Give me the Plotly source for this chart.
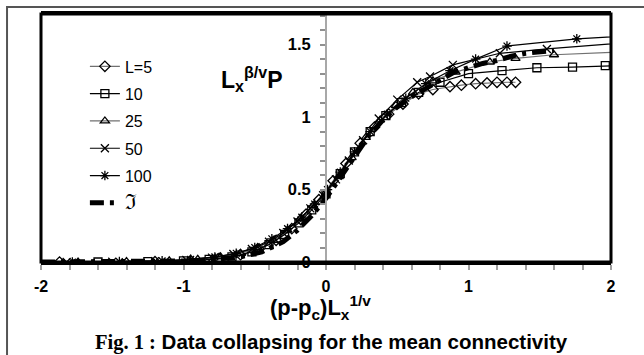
import plotly.graph_objects as go

# ---- data ----
x_L5 = [-1.87, -1.2, -0.95, -0.75, -0.6, -0.47, -0.35, -0.24, -0.14, -0.05, 0.05, 0.14, 0.24, 0.34,
        0.44, 0.54, 0.65, 0.75, 0.87, 0.95, 1.05, 1.13, 1.20, 1.27, 1.33]
y_L5 = [0.0, 0.002, 0.01, 0.025, 0.05, 0.09, 0.15, 0.23, 0.33, 0.43, 0.56, 0.68, 0.82, 0.93,
        1.02, 1.09, 1.16, 1.19, 1.21, 1.22, 1.23, 1.235, 1.24, 1.24, 1.24]

x_L10 = [-1.6, -1.25, -1.0, -0.82, -0.66, -0.52, -0.4, -0.29, -0.19, -0.1, 0.0, 0.1, 0.2, 0.31,
         0.42, 0.53, 0.65, 0.8, 1.0, 1.235, 1.48, 1.73, 1.96, 2.2]
y_L10 = [0.0, 0.003, 0.008, 0.018, 0.035, 0.07, 0.12, 0.19, 0.27, 0.36, 0.47, 0.61, 0.76, 0.9,
         1.01, 1.1, 1.17, 1.24, 1.30, 1.32, 1.34, 1.345, 1.355, 1.36]

x_L25 = [-1.74, -1.4, -1.1, -0.9, -0.74, -0.6, -0.48, -0.37, -0.27, -0.18, -0.09, 0.0, 0.09, 0.18,
         0.28, 0.38, 0.49, 0.61, 0.75, 0.91, 1.15, 1.33, 1.6, 2.1]
y_L25 = [0.0, 0.003, 0.008, 0.018, 0.035, 0.06, 0.1, 0.15, 0.22, 0.3, 0.39, 0.48, 0.59, 0.72,
         0.86, 0.98, 1.08, 1.17, 1.25, 1.31, 1.38, 1.405, 1.43, 1.45]

x_L50 = [-1.82, -1.5, -1.2, -0.98, -0.8, -0.65, -0.52, -0.4, -0.3, -0.2, -0.11, -0.02, 0.07, 0.16,
         0.26, 0.37, 0.5, 0.64, 0.73, 0.89, 1.22, 1.55, 2.2]
y_L50 = [0.0, 0.002, 0.006, 0.014, 0.03, 0.055, 0.09, 0.14, 0.2, 0.28, 0.37, 0.46, 0.57, 0.7,
         0.84, 0.99, 1.12, 1.24, 1.28, 1.36, 1.44, 1.47, 1.52]

x_L100 = [-1.78, -1.45, -1.15, -0.95, -0.78, -0.63, -0.5, -0.38, -0.27, -0.17, -0.08, 0.01, 0.1,
          0.2, 0.31, 0.43, 0.56, 0.7, 0.87, 1.05, 1.27, 1.76, 2.3]
y_L100 = [0.0, 0.003, 0.008, 0.018, 0.035, 0.06, 0.1, 0.16, 0.23, 0.31, 0.4, 0.5, 0.62,
          0.76, 0.9, 1.02, 1.13, 1.23, 1.32, 1.4, 1.49, 1.54, 1.57]

x_fit = [-2.0, -1.5, -1.0, -0.8, -0.6, -0.45, -0.3, -0.2, -0.1, 0.0, 0.1, 0.2, 0.3, 0.4, 0.5,
         0.6, 0.7, 0.8, 0.9, 1.0, 1.1, 1.2, 1.3, 1.4, 1.5, 1.6]
y_fit = [0.0, 0.001, 0.007, 0.016, 0.035, 0.07, 0.14, 0.22, 0.32, 0.44, 0.58, 0.73, 0.87, 0.98,
         1.07, 1.14, 1.2, 1.26, 1.31, 1.34, 1.37, 1.39, 1.42, 1.44, 1.45, 1.46]

x_tickvals = [-2, -1, 0, 1, 2]
x_ticktext = ["-2", "-1", "0", "1", "2"]
y_tickvals = [0, 0.5, 1, 1.5]
y_ticktext = ["0", "0.5", "1", "1.5"]

series = [
    ("L=5", x_L5, y_L5, "diamond-open", "#707070"),
    ("10", x_L10, y_L10, "square-open", "black"),
    ("25", x_L25, y_L25, "triangle-up-open", "#707070"),
    ("50", x_L50, y_L50, "x-thin-open", "black"),
    ("100", x_L100, y_L100, "asterisk-open", "black"),
]

FONT = "Arial, Liberation Sans, sans-serif"

fig = go.Figure()
for i, (name, xs, ys, sym, lc) in enumerate(series):
    fig.add_trace(go.Scatter(
        x=xs, y=ys, name=name, mode="lines+markers", legendgroup=str(i),
        line=dict(color=lc, width=1.2),
        marker=dict(symbol=sym, size=8, color="black", line=dict(width=1.3, color="black")),
    ))
fig.add_trace(go.Scatter(
    x=x_fit, y=y_fit, name="<span style='font-size:21px'>ℑ</span>", mode="lines", legendgroup="fit",
    line=dict(color="black", width=5, dash="14px,6px,4px,6px"),
))

fig.update_layout(
    width=644, height=355,
    margin=dict(l=41, r=33, t=11, b=93),
    paper_bgcolor="white", plot_bgcolor="white",
    font=dict(family=FONT, color="black"),
    showlegend=True,
    legend=dict(x=0.077, y=0.857, xanchor="left", yanchor="top",
                bgcolor="rgba(0,0,0,0)", font=dict(size=16, family=FONT),
                tracegroupgap=3.5),
    xaxis=dict(range=[-2, 2], showgrid=False, zeroline=False,
               showline=True, linecolor="black", linewidth=3, mirror=True,
               tickvals=x_tickvals, ticktext=x_ticktext,
               ticks="outside", ticklen=5, tickwidth=1.5,
               tickcolor="#a0a0a0", ticklabelstandoff=3,
               tickfont=dict(size=16, weight="bold", family=FONT),
               minor=dict(dtick=0.2, ticks="outside", ticklen=5, tickwidth=1.5, tickcolor="#a0a0a0")),
    yaxis=dict(range=[0, 1.711], showgrid=False, zeroline=False,
               anchor="free", position=0.5,
               showline=True, linecolor="#a8a8a8", linewidth=2,
               tickvals=y_tickvals, ticktext=y_ticktext,
               ticks="outside", ticklen=5, tickwidth=1.5, tickcolor="#909090",
               ticklabelstandoff=6,
               tickfont=dict(size=16.5, weight="bold", family=FONT),
               minor=dict(dtick=0.1, ticks="outside", ticklen=5, tickwidth=1.5, tickcolor="#909090")),
)

# plot frame and outer frame
fig.add_shape(type="rect", xref="paper", yref="paper", x0=0, x1=1, y0=0, y1=1,
              line=dict(color="black", width=3), layer="above")
fig.add_shape(type="rect", xref="paper", yref="paper", x0=-0.0596, x1=1.08, y0=-0.42, y1=1.028,
              line=dict(color="#555555", width=2), layer="above")

fig.add_annotation(xref="paper", yref="paper", x=0.37, y=0.737, showarrow=False,
                   xanchor="center", yanchor="middle",
                   text="L<sub>x</sub><sup>β/v</sup>P",
                   font=dict(size=23, weight="bold", family=FONT))
fig.add_annotation(xref="paper", yref="paper", x=0.491, y=-0.183, showarrow=False,
                   xanchor="center", yanchor="middle",
                   text="(p-p<sub>c</sub>)L<sub>x</sub><sup>1/v</sup>",
                   font=dict(size=22, weight="bold", family=FONT))
fig.add_annotation(xref="paper", yref="paper", x=0.509, y=-0.323, showarrow=False,
                   xanchor="center", yanchor="middle",
                   text="<span style='font-family:Liberation Serif, Times New Roman, serif'>Fig. 1 :</span> Data collapsing for the mean connectivity",
                   font=dict(size=20.5, weight="bold", family=FONT))

fig.write_html("out.html")
